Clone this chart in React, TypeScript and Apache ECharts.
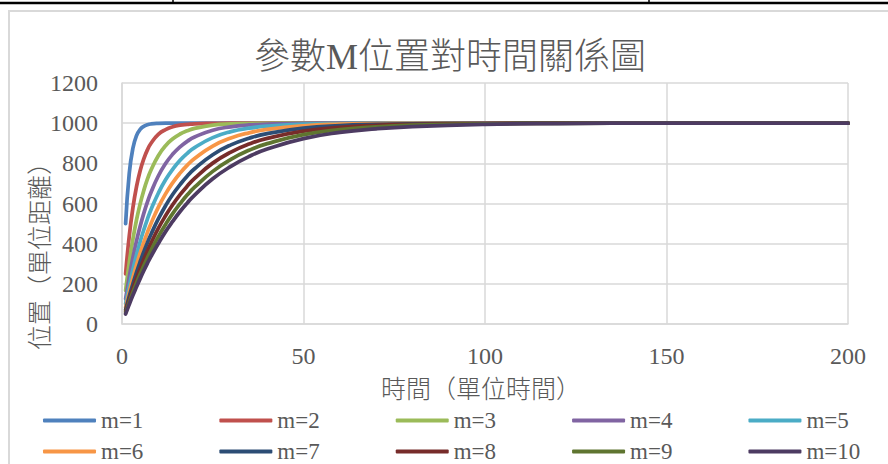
import React, { useEffect, useRef } from "react";
import * as echarts from "echarts";

// Sample times (x axis, 單位時間)
const times = [1, 2, 3, 4, 5, 6, 7, 8, 10, 12, 14, 16, 18, 20, 25, 30, 35, 40, 50, 60, 70, 80, 100, 120, 150, 200];

// Positions (單位距離) for each parameter m, one value per sample time
const m1 = [500, 750, 875, 938, 969, 984, 992, 996, 999, 1000, 1000, 1000, 1000, 1000, 1000, 1000, 1000, 1000, 1000, 1000, 1000, 1000, 1000, 1000, 1000, 1000];
const m2 = [250, 438, 578, 684, 763, 822, 867, 900, 944, 968, 982, 990, 994, 997, 999, 1000, 1000, 1000, 1000, 1000, 1000, 1000, 1000, 1000, 1000, 1000];
const m3 = [167, 306, 421, 518, 598, 665, 721, 767, 838, 888, 922, 946, 962, 974, 990, 996, 998, 999, 1000, 1000, 1000, 1000, 1000, 1000, 1000, 1000];
const m4 = [125, 234, 330, 414, 487, 551, 607, 656, 737, 799, 846, 882, 910, 931, 965, 982, 991, 995, 999, 1000, 1000, 1000, 1000, 1000, 1000, 1000];
const m5 = [100, 190, 271, 344, 410, 469, 522, 570, 651, 718, 771, 815, 850, 878, 928, 958, 975, 985, 995, 998, 999, 1000, 1000, 1000, 1000, 1000];
const m6 = [83, 160, 230, 294, 353, 407, 456, 501, 581, 648, 704, 751, 791, 824, 886, 926, 952, 969, 987, 995, 998, 999, 1000, 1000, 1000, 1000];
const m7 = [71, 138, 199, 257, 310, 359, 405, 447, 523, 589, 646, 694, 737, 773, 843, 892, 925, 948, 975, 988, 994, 997, 999, 1000, 1000, 1000];
const m8 = [63, 121, 176, 228, 276, 321, 364, 403, 476, 539, 595, 644, 687, 725, 801, 856, 896, 924, 960, 979, 989, 994, 998, 1000, 1000, 1000];
const m9 = [56, 108, 158, 204, 249, 290, 330, 367, 435, 496, 551, 599, 643, 681, 760, 820, 865, 898, 943, 968, 982, 990, 997, 999, 1000, 1000];
const m10 = [50, 98, 143, 185, 226, 265, 302, 337, 401, 460, 512, 560, 603, 642, 723, 785, 834, 871, 923, 954, 972, 983, 994, 998, 1000, 1000];

const seriesNames = ["m=1", "m=2", "m=3", "m=4", "m=5", "m=6", "m=7", "m=8", "m=9", "m=10"];
const seriesValues = [m1, m2, m3, m4, m5, m6, m7, m8, m9, m10];

const colors = ["#4F81BD", "#C0504D", "#9BBB59", "#8064A2", "#4BACC6", "#F79646", "#2C4D75", "#772C2A", "#5F7530", "#4D3B62"];

const title = "參數M位置對時間關係圖";
const xName = "時間（單位時間）";
const yName = "位置（單位距離）";

const TEXT = "#595959";
const GRID = "#D9D9D9";
const SERIF = "'Liberation Serif', 'Noto Sans CJK TC', serif";

export default function App() {
  const ref = useRef<HTMLDivElement>(null);

  useEffect(() => {
    if (!ref.current) return;
    const chart = echarts.init(ref.current, undefined, { renderer: "svg" });

    const legendCommon = {
      left: 43,
      orient: "horizontal" as const,
      icon: "roundRect",
      itemWidth: 53,
      itemHeight: 4,
      itemGap: 76,
      textStyle: { color: TEXT, fontSize: 23, lineHeight: 20, fontFamily: SERIF },
      padding: 0,
    };

    chart.setOption({
      animation: false,
      backgroundColor: "#ffffff",
      color: colors,
      graphic: [
        // table border above the chart
        { type: "line", shape: { x1: 0, y1: 3, x2: 888, y2: 3 }, style: { stroke: "#000", lineWidth: 2.5 } },
        { type: "line", shape: { x1: 173, y1: 0, x2: 173, y2: 3 }, style: { stroke: "#000", lineWidth: 1.5 } },
        { type: "line", shape: { x1: 649, y1: 0, x2: 649, y2: 3 }, style: { stroke: "#000", lineWidth: 1.5 } },
        // chart frame
        { type: "rect", shape: { x: 9, y: 11, width: 900, height: 480 }, style: { fill: "none", stroke: GRID, lineWidth: 2 } },
        {
          type: "text",
          x: 450,
          y: 57,
          style: { text: title, fill: TEXT, fontSize: 36, fontWeight: 300, fontFamily: SERIF, align: "center", verticalAlign: "middle" },
        },
        {
          type: "text",
          x: 481,
          y: 389,
          style: { text: xName, fill: TEXT, fontSize: 25, fontWeight: 300, fontFamily: SERIF, align: "center", verticalAlign: "middle" },
        },
        {
          type: "text",
          x: 40,
          y: 250,
          rotation: Math.PI / 2,
          style: { text: yName, fill: TEXT, fontSize: 25, fontWeight: 300, fontFamily: SERIF, align: "center", verticalAlign: "middle" },
        },
      ],
      legend: [
        { ...legendCommon, top: 409, data: seriesNames.slice(0, 5) },
        { ...legendCommon, top: 440, data: seriesNames.slice(5) },
      ],
      grid: { left: 122, right: 40, top: 83, bottom: 140, containLabel: false },
      xAxis: {
        type: "value",
        min: 0,
        max: 200,
        interval: 50,
        axisLine: { show: true, lineStyle: { color: GRID, width: 1.5 } },
        axisTick: { show: false },
        axisLabel: { color: TEXT, fontSize: 24, fontFamily: SERIF, margin: 20, formatter: (v: number) => String(v) },
        splitLine: { show: true, lineStyle: { color: GRID, width: 1.5 } },
      },
      yAxis: {
        type: "value",
        min: 0,
        max: 1200,
        interval: 200,
        axisLine: { show: true, lineStyle: { color: GRID, width: 1.5 } },
        axisTick: { show: false },
        axisLabel: { color: TEXT, fontSize: 24, fontFamily: SERIF, margin: 24, formatter: (v: number) => String(v) },
        splitLine: { show: true, lineStyle: { color: GRID, width: 1.5 } },
      },
      series: seriesNames.map((name, i) => ({
        name,
        type: "line",
        data: times.map((t, k) => [t, seriesValues[i][k]]),
        showSymbol: false,
        symbol: "none",
        smooth: 0.5,
        clip: false,
        lineStyle: { width: 3.75, color: colors[i], cap: "round", join: "round" },
        itemStyle: { color: colors[i] },
      })),
    });

    return () => chart.dispose();
  }, []);

  return <div ref={ref} style={{ position: "absolute", left: 0, top: 0, width: 888, height: 464 }} />;
}
